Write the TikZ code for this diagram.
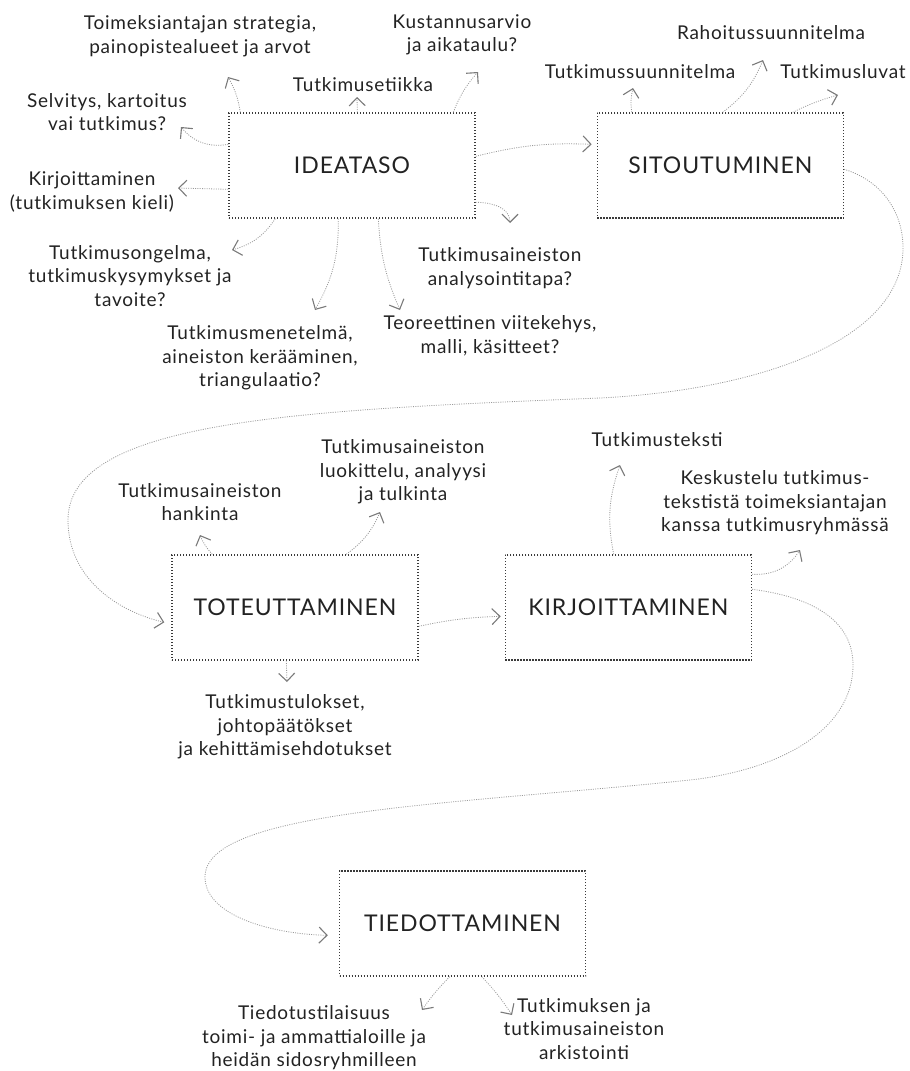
\documentclass[tikz,border=0pt]{standalone}
\usepackage{fontspec}
\setmainfont{Lato}[LetterSpace=4]
\usepackage{tikz}
\usetikzlibrary{arrows.meta,positioning,calc}
\definecolor{ink}{HTML}{222222}
\definecolor{boxline}{HTML}{3A3A3A}
\definecolor{trail}{HTML}{9A9A9A}
\definecolor{tipgray}{HTML}{7A7A7A}
\tikzset{
  stage/.style={
    draw=boxline, line width=1.4pt, dash pattern=on 1.4pt off 1.6pt,
    minimum width=246pt, minimum height=105pt,
    font=\fontsize{23}{27}\selectfont, text=ink,
  },
  lbl/.style={font=\fontsize{19}{23.5}\selectfont, align=center, text=ink, inner sep=1pt},
  arrow/.style={-{Straight Barb[length=8pt,width=16pt,line width=1.1pt,color=tipgray]},
    line width=0.8pt, color=trail, dash pattern=on 1pt off 1.3pt},
}

\begin{document}
\begin{tikzpicture}[x=1pt, y=-1pt]
  \useasboundingbox (0,0) rectangle (910,1071);

  % vaiheet
  \node[stage] (idea) at (352,165.5) {IDEATASO};
  \node[stage, right=121pt of idea] (sito) {SITOUTUMINEN};
  \node[stage] (toteu) at (295,607.5) {TOTEUTTAMINEN};
  \node[stage, right=86pt of toteu] (kirj) {KIRJOITTAMINEN};
  \node[stage] (tiedo) at (462.5,923.5) {TIEDOTTAMINEN};

  % ideataso
  \node[lbl] (strat) at (200,36) {Toimeksiantajan strategia,\\painopistealueet ja arvot};
  \node[lbl] (etiikka) at (363,85) {Tutkimusetiikka};
  \node[lbl] (kustannus) at (462,35) {Kustannusarvio\\ja aikataulu?};
  \node[lbl] (selvitys) at (107,112) {Selvitys, kartoitus\\vai tutkimus?};
  \node[lbl] (kieli) at (92,192) {Kirjoittaminen\\(tutkimuksen kieli)};
  \node[lbl] (ongelma) at (130,276) {Tutkimusongelma,\\tutkimuskysymykset ja\\tavoite?};
  \node[lbl] (menetelma) at (260,358) {Tutkimusmenetelmä,\\aineiston kerääminen,\\triangulaatio?};
  \node[lbl] (teoria) at (490,336) {Teoreettinen viitekehys,\\malli, käsitteet?};
  \node[lbl] (analyysi) at (500,268) {Tutkimusaineiston\\analysointitapa?};

  % sitoutuminen
  \node[lbl] (tsuunn) at (640,72) {Tutkimussuunnitelma};
  \node[lbl] (rahoitus) at (771,33) {Rahoitussuunnitelma};
  \node[lbl] (luvat) at (843,72) {Tutkimusluvat};

  % toteuttaminen
  \node[lbl] (hankinta) at (200,502) {Tutkimusaineiston\\hankinta};
  \node[lbl] (luokittelu) at (403,472) {Tutkimusaineiston\\luokittelu, analyysi\\ja tulkinta};
  \node[lbl] (tulokset) at (285,727) {Tutkimustulokset,\\johtopäätökset\\ja kehittämisehdotukset};

  % kirjoittaminen
  \node[lbl] (teksti) at (657,440) {Tutkimusteksti};
  \node[lbl] (keskustelu) at (775,503) {Keskustelu tutkimus-\\tekstistä toimeksiantajan\\kanssa tutkimusryhmässä};

  % tiedottaminen
  \node[lbl] (tiedotus) at (314,1038) {Tiedotustilaisuus\\toimi- ja ammattialoille ja\\heidän sidosryhmilleen};
  \node[lbl] (arkisto) at (584,1029) {Tutkimuksen ja\\tutkimusaineiston\\arkistointi};

  \draw[arrow] ($(idea.north west)+(12,0)$) to[bend right=10] ($(strat)+(28,41)$);
  \draw[arrow] ($(idea.north west)+(129,0)$) -- ($(etiikka)+(-6,12)$);
  \draw[arrow] ($(idea.north west)+(225,0)$) to[bend left=10] ($(kustannus)+(16,37)$);
  \draw[arrow] ($(idea.north west)+(0,32)$) to[bend left=30] ($(selvitys)+(74,15)$);
  \draw[arrow] ($(idea.north west)+(0,77)$) -- ($(kieli)+(86,-4)$);
  \draw[arrow] ($(idea.south west)+(47,0)$) to[bend left=20] ($(ongelma)+(102,-26)$);
  \draw[arrow] ($(idea.south west)+(110,0)$) to[bend left=15] ($(menetelma)+(55,-48)$);
  \draw[arrow] ($(idea.south west)+(150,0)$) to[bend right=10] ($(teoria)+(-90,-26)$);
  \draw[arrow] ($(idea.north east)+(0,90)$) to[out=0, in=90] ($(analyysi)+(10,-45)$);
  \draw[arrow] ($(idea.north east)+(0,44)$) to[bend left=8] ($(sito.north west)+(-5,32)$);

  \draw[arrow] ($(sito.north west)+(35,0)$) to[bend left=10] ($(tsuunn)+(-7,16)$);
  \draw[arrow] ($(sito.north west)+(126,0)$) to[bend right=15] ($(rahoitus)+(-8,27)$);
  \draw[arrow] ($(sito.north west)+(196,0)$) to[bend left=5] ($(luvat)+(-5,23)$);
  \draw[arrow] ($(sito.north east)+(0,57)$) .. controls (880,180) and (903,210) .. (903,248)
    .. controls (903,340) and (760,390) .. (600,398)
    .. controls (300,410) and (68,420) .. (68,520)
    .. controls (68,580) and (120,612) .. ($(toteu.north west)+(-7,68)$);

  \draw[arrow] ($(toteu.north west)+(41,0)$) to[bend left=10] ($(hankinta)+(0,33)$);
  \draw[arrow] ($(toteu.north west)+(175,0)$) to[bend right=15] ($(luokittelu)+(-23,40)$);
  \draw[arrow] ($(toteu.south west)+(115,0)$) -- ($(tulokset)+(2,-45)$);
  \draw[arrow] ($(toteu.north east)+(0,72)$) to[bend left=5] ($(kirj.north west)+(-4,62)$);

  \draw[arrow] ($(kirj.north west)+(109,0)$) to[bend left=15] ($(teksti)+(-37,25)$);
  \draw[arrow] ($(kirj.north east)+(0,20)$) to[bend right=30] ($(keskustelu)+(25,47)$);
  \draw[arrow] ($(kirj.north east)+(0,35)$) .. controls (820,598) and (853,625) .. (853,665)
    .. controls (853,730) and (780,770) .. (690,780)
    .. controls (450,805) and (205,810) .. (205,877)
    .. controls (205,915) and (270,934) .. ($(tiedo.north west)+(-11,65)$);

  \draw[arrow] ($(tiedo.south west)+(111,0)$) to[bend right=5] ($(tiedotus)+(108,-28)$);
  \draw[arrow] ($(tiedo.south west)+(143,0)$) to[bend left=5] ($(arkisto)+(-72,-14)$);

\end{tikzpicture}
\end{document}
